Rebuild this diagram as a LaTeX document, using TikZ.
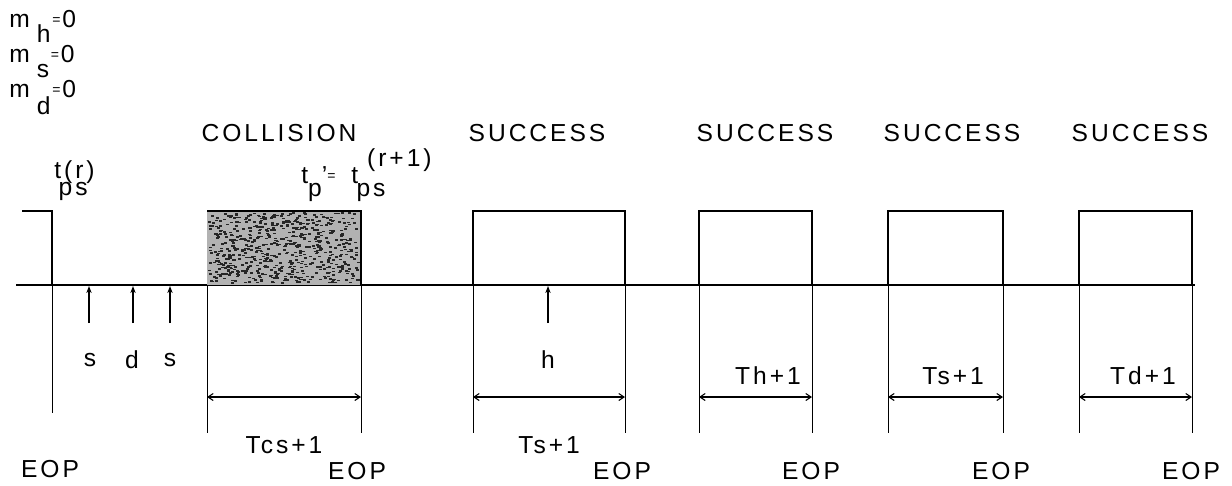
\documentclass[tikz,border=0pt]{standalone}
\usepackage{fontspec}
\setmainfont{Liberation Sans}[LetterSpace=12]
\usetikzlibrary{arrows.meta}
% small plotter-style equals sign
\newcommand\eqs{{\fontsize{8}{8}\selectfont\raisebox{1.5pt}{=}}}
\begin{document}
\begin{tikzpicture}[x=0.02cm,y=-0.02cm,
    lbl/.style={font=\fontsize{14}{16}\selectfont,inner sep=0pt},
    axis/.style={line width=1.6pt},
    pulse/.style={line width=1.1pt},
    guide/.style={line width=0.5pt},
    probe/.style={line width=1pt,-{Stealth[length=4pt,width=3pt]}},
    span/.style={line width=0.6pt,{Straight Barb[length=3pt,width=4pt]}-{Straight Barb[length=3pt,width=4pt]}}]
\useasboundingbox (0,0) rectangle (1232,485);

% counters
\node[lbl,anchor=base west] (mh) at (9,27) {m\hspace{4pt}\raisebox{-9pt}{h}\hspace{1pt}\eqs\hspace{1pt}0};
\node[lbl,anchor=base west] (ms) at (9,62) {m\hspace{4pt}\raisebox{-9pt}{s}\hspace{1pt}\eqs\hspace{1pt}0};
\node[lbl,anchor=base west] (md) at (9,97) {m\hspace{4pt}\raisebox{-10pt}{d}\hspace{1pt}\eqs\hspace{1pt}0};

% slot names
\node[lbl] (coll) at (279,133) {COLLISION};
\node[lbl] (suc1) at (537,133) {SUCCESS};
\node[lbl] (suc2) at (765,133) {SUCCESS};
\node[lbl] (suc3) at (952,133) {SUCCESS};
\node[lbl] (suc4) at (1140,133) {SUCCESS};

% time marks
\node[lbl,anchor=base west] (tps) at (54,178) {\rlap{t(r)}\hspace{2.5pt}\raisebox{-10pt}{ps}};
\node[lbl,anchor=base west] (tp) at (301,183) {t\raisebox{-7.4pt}{p}'\eqs\hspace{9pt}\rlap{t}\hspace{3pt}\rlap{\hspace{6pt}\raisebox{9.6pt}{(r+1)}}\raisebox{-7.4pt}{ps}};

% channel line
\coordinate (a0) at (16,285);
\coordinate (a1) at (1195,285);
\draw[axis] (a0) -- (a1);

% end of previous packet
\draw[pulse] (22,211) -- (52,211) -- (52,285);
\draw[guide] (52,285) -- (52,413);

% collision slot
\fill[black!30] (207,211) rectangle (361,285);
\pgfmathsetseed{7}
\foreach \i in {1,...,650}{
  \pgfmathsetmacro\rx{208+rnd*149}
  \pgfmathsetmacro\ry{212+rnd*70}
  \fill[black!85] (\rx,\ry) rectangle ++(3,1.6);
}
\draw[pulse] (207,211) -- (361,211) -- (361,285);
\draw[guide] (207,285) -- (207,433);
\draw[guide] (361,285) -- (361,433);

% success slots
\draw[pulse] (473,285) -- (473,211) -- (625,211) -- (625,285);
\draw[pulse] (699,285) -- (699,211) -- (812,211) -- (812,285);
\draw[pulse] (888,285) -- (888,211) -- (1003,211) -- (1003,285);
\draw[pulse] (1079,285) -- (1079,211) -- (1192,211) -- (1192,285);
\draw[guide] (473,285) -- (473,433);
\draw[guide] (625,285) -- (625,433);
\draw[guide] (699,285) -- (699,433);
\draw[guide] (812,285) -- (812,433);
\draw[guide] (888,285) -- (888,433);
\draw[guide] (1003,285) -- (1003,433);
\draw[guide] (1079,285) -- (1079,433);
\draw[guide] (1192,285) -- (1192,433);

% arrivals
\draw[probe] (89,323) -- (89,286);
\draw[probe] (133,323) -- (133,286);
\draw[probe] (170,323) -- (170,286);
\draw[probe] (548,323) -- (548,286);
\node[lbl] (s1) at (90,360) {s};
\node[lbl] (d1) at (132,360) {d};
\node[lbl] (s2) at (170,360) {s};
\node[lbl] (h1) at (548,360) {h};

% slot lengths
\draw[span] (207,397) -- (361,397);
\draw[span] (473,397) -- (625,397);
\draw[span] (699,397) -- (812,397);
\draw[span] (888,397) -- (1003,397);
\draw[span] (1079,397) -- (1192,397);
\node[lbl] (tcs) at (284,445) {Tcs+1};
\node[lbl] (ts1) at (549,445) {Ts+1};
\node[lbl] (th) at (768,376) {Th+1};
\node[lbl] (ts2) at (953,376) {Ts+1};
\node[lbl] (td) at (1143,376) {Td+1};

% end of packet
\node[lbl] (e0) at (50,469) {EOP};
\node[lbl] (e1) at (357,471) {EOP};
\node[lbl] (e2) at (622,471) {EOP};
\node[lbl] (e3) at (811,471) {EOP};
\node[lbl] (e4) at (1001,471) {EOP};
\node[lbl] (e5) at (1191,471) {EOP};
\end{tikzpicture}
\end{document}
